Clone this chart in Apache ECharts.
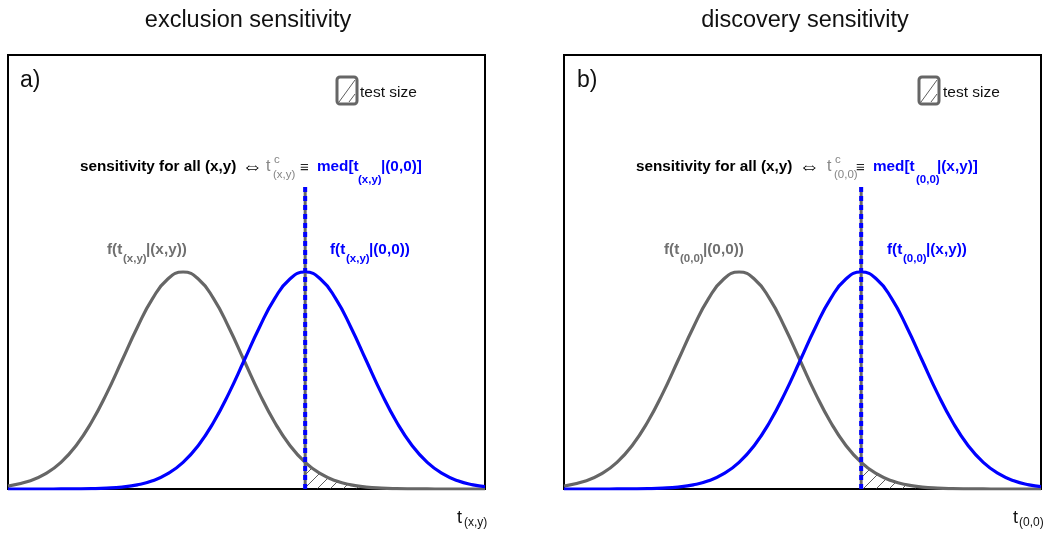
<!DOCTYPE html>
<html>
<head>
<meta charset="utf-8">
<script src="https://cdn.jsdelivr.net/npm/echarts@6/dist/echarts.min.js"></script>
<style>
  html, body { margin: 0; padding: 0; background: #fff; }
  #chart { width: 1043px; height: 534px; }
</style>
</head>
<body>
<div id="chart"></div>
<script>
// Test-statistic axis (arbitrary units across each frame)
const xs = [0, 4.7, 7.9, 11.1, 14.3, 17.5, 20.7, 23.9, 27.1, 30.3, 33.5, 36.7, 39.9, 43.1, 46.3, 49.5, 52.7, 55.9, 59.1, 62.3, 65.5, 68.7, 71.9, 75.1, 78.3, 81.5, 84.7, 87.9, 91.1, 94.3, 97.5, 100];
// Lower-lying density (grey) and upper-lying density (blue)
const greyPdf = [0.67, 1.89, 3.52, 6.14, 10.04, 15.37, 22.04, 29.60, 37.23, 43.86, 48.39, 50, 48.39, 43.86, 37.23, 29.60, 22.04, 15.37, 10.04, 6.14, 3.52, 1.89, 0.95, 0.45, 0.20, 0.08, 0.03, 0.01, 0, 0, 0, 0];
const bluePdf = [0, 0, 0, 0.01, 0.03, 0.08, 0.20, 0.45, 0.95, 1.89, 3.52, 6.14, 10.04, 15.37, 22.04, 29.60, 37.23, 43.86, 48.39, 50, 48.39, 43.86, 37.23, 29.60, 22.04, 15.37, 10.04, 6.14, 3.52, 1.89, 0.95, 0.53];
// Critical value (median of the blue density) and height of its marker line
const cutX = 62.3;
const cutTop = 69.6;

const panelTitles = ['exclusion sensitivity', 'discovery sensitivity'];
const panelTags = ['a)', 'b)'];

const FONT = '"Liberation Sans", Arial, Helvetica, sans-serif';
const GREY = '#666666';
const LGREY = '#858585';
const BLUE = '#0000ff';

// diagonal hatch pattern for the test-size area
function hatch() {
  const s = 13;
  const c = document.createElement('canvas');
  c.width = s; c.height = s;
  const g = c.getContext('2d');
  g.strokeStyle = '#333';
  g.lineWidth = 0.8;
  g.beginPath();
  g.moveTo(0, s); g.lineTo(s, 0);
  g.moveTo(-2, 2); g.lineTo(2, -2);
  g.moveTo(s - 2, s + 2); g.lineTo(s + 2, s - 2);
  g.stroke();
  return { image: c, repeat: 'repeat' };
}
const hatchFill = hatch();

const pairs = ys => xs.map((x, i) => [x, ys[i]]);
const tail = ys => xs.map((x, i) => [x, ys[i]]).filter(p => p[0] >= cutX);

const chart = echarts.init(document.getElementById('chart'), null, { renderer: 'canvas' });

const grids = [
  { left: 8, top: 55, width: 477, height: 434 },
  { left: 564, top: 55, width: 477, height: 434 }
].map(g => Object.assign(g, { show: true, borderColor: '#000', borderWidth: 2, backgroundColor: 'transparent' }));

const xAxes = [0, 1].map(i => ({ type: 'value', gridIndex: i, min: 0, max: 100, show: false }));
const yAxes = [0, 1].map(i => ({ type: 'value', gridIndex: i, min: 0, max: 100, show: false }));

const series = [];
[0, 1].forEach(i => {
  const base = { xAxisIndex: i, yAxisIndex: i, type: 'line', showSymbol: false, symbol: 'none', silent: true, animation: false };
  series.push(Object.assign({}, base, {
    data: tail(greyPdf), smooth: true, z: 1,
    lineStyle: { width: 0, opacity: 0 }, areaStyle: { color: hatchFill, opacity: 1 }
  }));
  series.push(Object.assign({}, base, {
    data: pairs(greyPdf), smooth: true, z: 2, lineStyle: { color: GREY, width: 3.2 }
  }));
  series.push(Object.assign({}, base, {
    data: pairs(bluePdf), smooth: true, z: 3, lineStyle: { color: BLUE, width: 3.2 }
  }));
  series.push(Object.assign({}, base, {
    data: [[cutX, 0], [cutX, cutTop]], z: 4, lineStyle: { color: GREY, width: 3 }
  }));
  series.push(Object.assign({}, base, {
    data: [[cutX, 0], [cutX, cutTop]], z: 5, lineStyle: { color: BLUE, width: 4, type: [5, 4] }
  }));
});

function txt(x, y, s, size, color, bold, align) {
  return {
    type: 'text', x: x, y: y, z: 10, silent: true,
    style: {
      text: s, fill: color, fontSize: size, fontFamily: FONT,
      fontWeight: bold ? 'bold' : 'normal', align: align || 'left', verticalAlign: 'middle'
    }
  };
}

const gfx = [];
// panel titles and tags
gfx.push(txt(248, 21, panelTitles[0], 23.5, '#111', false, 'center'));
gfx.push(txt(805, 21, panelTitles[1], 23.5, '#111', false, 'center'));
gfx.push(txt(20, 81, panelTags[0], 23, '#111'));
gfx.push(txt(577, 81, panelTags[1], 23, '#111'));

// legend entries
function legend(bx, tx) {
  gfx.push({
    type: 'rect', z: 10, silent: true,
    shape: { x: bx, y: 77, width: 20, height: 27, r: 3 },
    style: { fill: '#fff', stroke: GREY, lineWidth: 3 }
  });
  gfx.push({ type: 'line', z: 11, silent: true, shape: { x1: bx + 2, y1: 102, x2: bx + 18, y2: 80 }, style: { stroke: '#333', lineWidth: 0.8 } });
  gfx.push({ type: 'line', z: 11, silent: true, shape: { x1: bx + 12, y1: 102, x2: bx + 18, y2: 94 }, style: { stroke: '#333', lineWidth: 0.8 } });
  gfx.push(txt(tx, 93, 'test size', 15.5, '#111'));
}
legend(337, 360);
legend(919, 943);

// sensitivity statements
function statement(ox, p) {
  gfx.push(txt(ox + 80, 167, 'sensitivity for all (x,y)', 15.3, '#000', true));
  gfx.push(txt(ox + p.arrow, 167, '\u21d4', 21, '#000'));
  gfx.push(txt(ox + p.t, 167, 't', 16, LGREY));
  gfx.push(txt(ox + p.t + 8, 160, 'c', 11.5, LGREY));
  gfx.push(txt(ox + p.t + 7, 175, p.sub, 11.5, LGREY));
  gfx.push(txt(ox + 300, 168, '\u2261', 15, '#222'));
  gfx.push(txt(ox + 317, 167, 'med[t', 15.3, BLUE, true));
  gfx.push(txt(ox + p.msub, 180, p.sub, 11.5, BLUE, true));
  gfx.push(txt(ox + p.mrest, 167, p.rest, 15.3, BLUE, true));
}
statement(0, { arrow: 242, t: 266, sub: '(x,y)', msub: 358, mrest: 381, rest: '|(0,0)]' });
statement(556, { arrow: 243, t: 271, sub: '(0,0)', msub: 360, mrest: 381, rest: '|(x,y)]' });

// density labels
function pdfLabel(x, sub, rest, color) {
  gfx.push(txt(x, 250, 'f(t', 15.3, color, true));
  gfx.push(txt(x + 16, 259, sub, 11.5, color, true));
  gfx.push(txt(x + 39, 250, rest, 15.3, color, true));
}
pdfLabel(107, '(x,y)', '|(x,y))', '#707070');
pdfLabel(330, '(x,y)', '|(0,0))', BLUE);
pdfLabel(664, '(0,0)', '|(0,0))', '#707070');
pdfLabel(887, '(0,0)', '|(x,y))', BLUE);

// axis titles
gfx.push(txt(457, 518, 't', 18, '#111'));
gfx.push(txt(464, 523, '(x,y)', 12, '#111'));
gfx.push(txt(1013, 518, 't', 18, '#111'));
gfx.push(txt(1019, 523, '(0,0)', 12, '#111'));

chart.setOption({
  animation: false,
  grid: grids,
  xAxis: xAxes,
  yAxis: yAxes,
  series: series,
  graphic: gfx
});
</script>
</body>
</html>
